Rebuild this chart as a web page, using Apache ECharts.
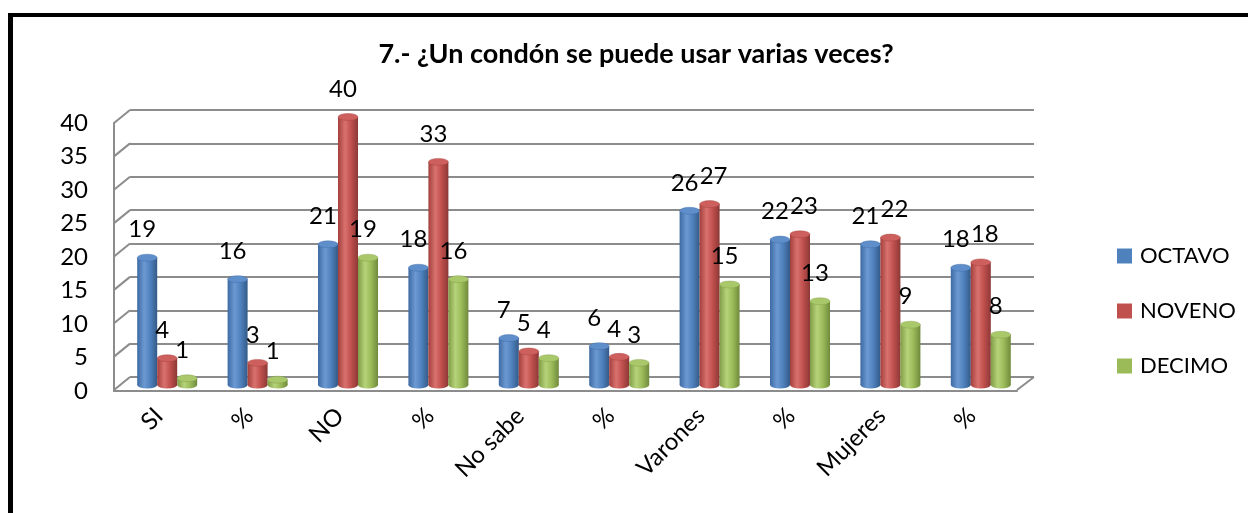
<!DOCTYPE html>
<html lang="es">
<head>
<meta charset="UTF-8">
<title>7.- ¿Un condón se puede usar varias veces?</title>
<script src="https://cdn.jsdelivr.net/npm/echarts@6/dist/echarts.min.js"></script>
<style>
    body { margin: 0; padding: 0; background: #fff; }
    #chart { width: 1248px; height: 513px; }
    #frame {
        position: absolute; left: 8px; top: 13px; right: 0; bottom: 0;
        border-left: 5px solid #000; border-top: 4px solid #000;
        pointer-events: none;
    }
</style>
</head>
<body>
<div id="chart"></div>
<div id="frame"></div>
<script>
    // datos
    var categories = ['SI', '%', 'NO', '%', 'No sabe', '%', 'Varones', '%', 'Mujeres', '%'];
    var octavo = [19, 15.8, 21, 17.5, 7, 5.8, 26, 21.7, 21, 17.5];
    var noveno = [4, 3.3, 40, 33.3, 5, 4.2, 27, 22.5, 22, 18.3];
    var decimo = [1, 0.8, 19, 15.8, 4, 3.3, 15, 12.5, 9, 7.5];
    var yTicks = [0, 5, 10, 15, 20, 25, 30, 35, 40];

    var DX = 16, DY = 13;      // profundidad del efecto 3D
    var BAR_W = 20;
    var FONT = 'Lato';

    var styles = [
        { name: 'OCTAVO', data: octavo, color: '#4F81BD', dark: '#345a88', edge: '#3d6aa3', light: '#6d99d2', top: '#5f8fcb' },
        { name: 'NOVENO', data: noveno, color: '#C0504D', dark: '#8c3836', edge: '#a33f3c', light: '#d9726f', top: '#cd605d' },
        { name: 'DECIMO', data: decimo, color: '#9BBB59', dark: '#6f8a3c', edge: '#809c46', light: '#b6d37a', top: '#a9c86a' }
    ];

    // como Excel: si la etiqueta roja choca con la azul, se corre a la derecha
    function labelShift(k, i) {
        if (k !== 1) return 0;
        var a = Math.round(octavo[i]), b = Math.round(noveno[i]);
        if (a >= 10 && b >= 10 && Math.abs(noveno[i] - octavo[i]) < 3) return 9;
        return 0;
    }

    function cylinder(k, s) {
        return function (params, api) {
            var v = api.value(1);
            var i = api.value(0);
            var base = api.coord([i, 0]);
            var top = api.coord([i, v]);
            var cx = base[0] + (k - 1) * BAR_W;
            var r = BAR_W / 2;
            var grad = new echarts.graphic.LinearGradient(0, 0, 1, 0, [
                { offset: 0, color: s.edge },
                { offset: 0.35, color: s.light },
                { offset: 0.65, color: s.color },
                { offset: 1, color: s.dark }
            ]);
            return {
                type: 'group',
                children: [
                    { type: 'circle', x: cx, y: base[1], scaleY: 0.35, shape: { cx: 0, cy: 0, r: r }, style: { fill: grad } },
                    { type: 'rect', shape: { x: cx - r, y: top[1], width: BAR_W, height: base[1] - top[1] }, style: { fill: grad } },
                    { type: 'circle', x: cx, y: top[1], scaleY: 0.35, shape: { cx: 0, cy: 0, r: r }, style: { fill: s.top, stroke: s.edge, lineWidth: 0.6 } },
                    {
                        type: 'text', z2: 10,
                        style: {
                            text: String(Math.round(v)), x: cx - 5 + labelShift(k, i), y: top[1] - 28,
                            fill: '#000', fontSize: 24, fontFamily: FONT,
                            align: 'center', verticalAlign: 'middle'
                        }
                    }
                ]
            };
        };
    }

    // lineas diagonales de la pared izquierda y del piso
    function wallEdges(params, api) {
        var cs = params.coordSys;
        var p = api.coord([0, api.value(1)]);
        var lineStyle = { stroke: '#8c8c8c', lineWidth: 2 };
        var children = [
            { type: 'line', shape: { x1: cs.x, y1: p[1], x2: cs.x - DX, y2: p[1] + DY }, style: lineStyle }
        ];
        if (api.value(1) === 0) {
            var xr = cs.x + cs.width;
            children.push({ type: 'line', shape: { x1: xr, y1: p[1], x2: xr - DX - 1, y2: p[1] + DY }, style: lineStyle });
        }
        return { type: 'group', children: children };
    }

    var chart = echarts.init(document.getElementById('chart'));

    var series = [{
        type: 'custom',
        xAxisIndex: 0, yAxisIndex: 0,
        renderItem: wallEdges,
        data: yTicks.map(function (t) { return [0, t]; }),
        silent: true, z: 1
    }];
    styles.forEach(function (s, k) {
        series.push({
            type: 'custom',
            name: s.name,
            xAxisIndex: 1, yAxisIndex: 1,
            itemStyle: { color: s.color },
            renderItem: cylinder(k, s),
            data: s.data.map(function (v, i) { return [i, v]; }),
            z: 5
        });
    });

    var option = {
        animation: false,
        textStyle: { fontFamily: FONT },
        title: {
            text: '7.- ¿Un condón se puede usar varias veces?',
            left: 631, top: 36, textAlign: 'center',
            textStyle: { fontFamily: FONT, fontWeight: 'bold', fontSize: 27, color: '#000' }
        },
        legend: {
            orient: 'vertical', left: 1112, top: 240,
            icon: 'rect', itemWidth: 15, itemHeight: 15, itemGap: 33,
            textStyle: { fontFamily: FONT, fontSize: 22, color: '#000', padding: [0, 0, 0, 3] },
            data: styles.map(function (s) { return s.name; })
        },
        grid: [
            { left: 130, right: 214, top: 110, bottom: 136 },   // pared del fondo
            { left: 122, right: 222, top: 117, bottom: 128 },   // plano de barras
            { left: 114, right: 231, top: 123, bottom: 122 }    // frente
        ],
        xAxis: [
            { gridIndex: 0, type: 'category', data: categories, axisLine: { show: false }, axisTick: { show: false }, axisLabel: { show: false } },
            { gridIndex: 1, type: 'category', data: categories, show: false },
            {
                gridIndex: 2, type: 'category', data: categories,
                axisLine: { show: true, lineStyle: { color: '#8c8c8c', width: 2 } },
                axisTick: { show: false },
                axisLabel: { interval: 0, rotate: 45, margin: 21, fontSize: 24, fontFamily: FONT, color: '#000' }
            }
        ],
        yAxis: [
            {
                gridIndex: 0, type: 'value', min: 0, max: 40, interval: 5,
                axisLine: { show: false }, axisTick: { show: false }, axisLabel: { show: false },
                splitLine: { show: true, lineStyle: { color: '#8c8c8c', width: 2 } }
            },
            { gridIndex: 1, type: 'value', min: 0, max: 40, interval: 5, show: false },
            {
                gridIndex: 2, type: 'value', min: 0, max: 40, interval: 5,
                axisLine: { show: true, lineStyle: { color: '#8c8c8c', width: 2 } },
                axisTick: { show: false },
                splitLine: { show: false },
                axisLabel: { margin: 26, fontSize: 24, fontFamily: FONT, color: '#000' }
            }
        ],
        series: series
    };

    chart.setOption(option);
</script>
</body>
</html>
